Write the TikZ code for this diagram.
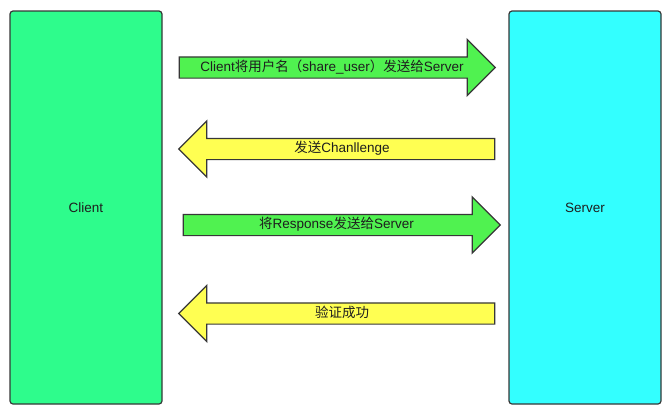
\documentclass[tikz,border=0pt]{standalone}
\usepackage{fontspec}
\setmainfont{Liberation Sans}
\newfontfamily\cjk{Noto Sans CJK SC}
\usetikzlibrary{shapes.arrows,calc}
\definecolor{client_color}{RGB}{46,252,140}
\definecolor{server_color}{RGB}{51,255,255}
\definecolor{send_color}{RGB}{80,242,80}
\definecolor{reply_color}{RGB}{255,255,82}
\definecolor{edge_color}{RGB}{55,55,55}
\definecolor{text_color}{RGB}{30,30,30}
\tikzset{
  party/.style={
    draw=edge_color, line width=1.2pt, text=text_color,
    minimum width=152pt, minimum height=393pt, rounded corners=3pt,
    font=\fontsize{13.5}{16}\selectfont
  },
  msg/.style={
    single arrow, draw=edge_color, line width=1.2pt, text=text_color,
    single arrow head extend=17.5pt, single arrow head indent=0pt,
    single arrow tip angle=90, inner xsep=2pt, inner ysep=4pt,
    text height=9.5pt, text depth=2.5pt, minimum height=316pt,
    font=\fontsize{13.5}{16}\selectfont
  },
  sendmsg/.style={msg, fill=send_color},
  replymsg/.style={msg, fill=reply_color, shape border rotate=180}
}

\begin{document}
\begin{tikzpicture}[x=1pt, y=-1pt]
\useasboundingbox (0,0) rectangle (669,413);

\node[party, fill=client_color] (client) at (86,207.5) {Client};
\node[party, fill=server_color] (server) at (585,207.5) {Server};

\node[sendmsg] (msg1) at (332,67.5) {Client{\cjk 将用户名（}share\_user{\cjk ）发送给}Server};
\node[replymsg] (msg2) at (342,149) {{\cjk 发送}Chanllenge};
\node[sendmsg, minimum height=317pt] (msg3) at (336.5,225) {{\cjk 将}Response{\cjk 发送给}Server};
\node[replymsg] (msg4) at (342,313.5) {{\cjk 验证成功}};

\end{tikzpicture}
\end{document}
